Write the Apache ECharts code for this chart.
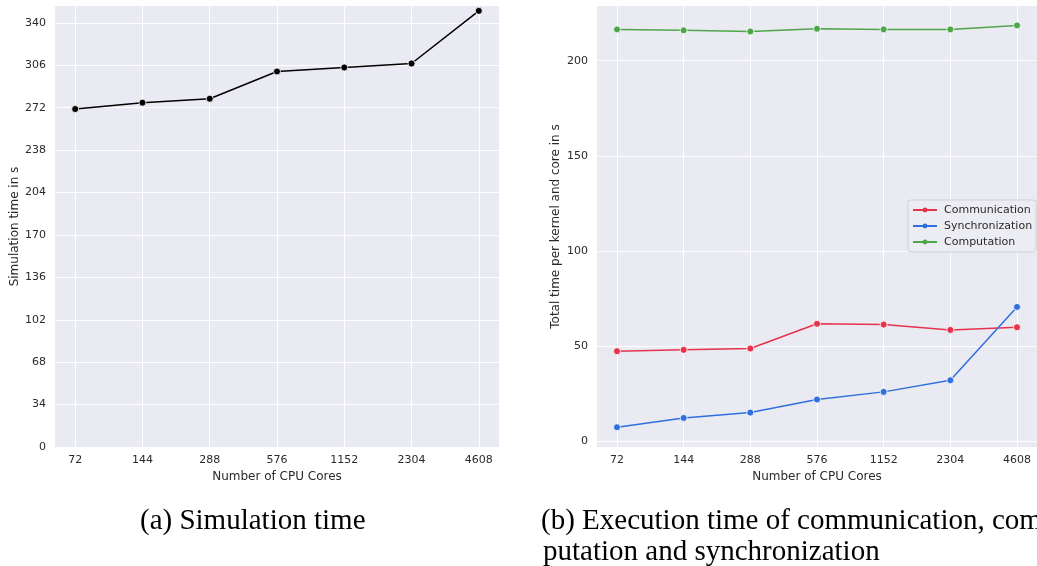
<!DOCTYPE html>
<html>
<head>
<meta charset="utf-8">
<script src="https://cdn.jsdelivr.net/npm/echarts@6/dist/echarts.min.js"></script>
<style>
html,body{margin:0;padding:0;background:#fff;}
#chart{width:1037px;height:566px;}
</style>
</head>
<body>
<div id="chart"></div>
<script>
const cores = ['72', '144', '288', '576', '1152', '2304', '4608'];
const simulationTime = [270.9, 276.0, 279.2, 301.0, 304.2, 307.4, 349.6];
const communication = [47.2, 47.9, 48.6, 61.6, 61.2, 58.4, 59.8];
const synchronization = [7.2, 12.1, 14.9, 21.8, 25.8, 31.9, 70.5];
const computation = [216.5, 216.0, 215.4, 216.8, 216.5, 216.5, 218.6];
const leftYTicks = [0, 34, 68, 102, 136, 170, 204, 238, 272, 306, 340];
const rightYTicks = [0, 50, 100, 150, 200];
const captionA = '(a) Simulation time';
const captionB1 = '(b) Execution time of communication, com';
const captionB2 = 'putation and synchronization';

const textColor = '#2a2a2a';
const font = 'DejaVu Sans';
const bg = '#eaeaf2';
const catIdx = cores.map((_, i) => i);

function xAxisDef(gridIndex) {
  return {
    type: 'value', gridIndex: gridIndex, min: -0.3, max: 6.3,
    name: 'Number of CPU Cores', nameLocation: 'middle', nameGap: 22,
    nameTextStyle: {color: textColor, fontSize: 12, fontFamily: font},
    axisLine: {show: false},
    axisTick: {show: false, customValues: catIdx},
    axisLabel: {customValues: catIdx, color: textColor, fontSize: 11, fontFamily: font, margin: 8,
      formatter: v => cores[Math.round(v)]},
    splitLine: {show: true, lineStyle: {color: '#ffffff', width: 1}}
  };
}
function yAxisDef(gridIndex, name, min, max, ticks, gap) {
  return {
    type: 'value', gridIndex: gridIndex, min: min, max: max,
    name: name, nameLocation: 'middle', nameGap: gap, nameRotate: 90,
    nameTextStyle: {color: textColor, fontSize: 12, fontFamily: font},
    axisLine: {show: false},
    axisTick: {show: false, customValues: ticks},
    axisLabel: {customValues: ticks, color: textColor, fontSize: 11, fontFamily: font, margin: 9},
    splitLine: {show: true, lineStyle: {color: '#ffffff', width: 1}}
  };
}
function lineSeries(name, data, color, xi, yi) {
  return {
    type: 'line', name: name, xAxisIndex: xi, yAxisIndex: yi,
    data: data.map((v, i) => [i, v]),
    symbol: 'circle', symbolSize: 7, showSymbol: true,
    lineStyle: {color: color, width: 1.5},
    itemStyle: {color: color, borderColor: '#ffffff', borderWidth: 0.8},
    emphasis: {disabled: true}, animation: false
  };
}

const chart = echarts.init(document.getElementById('chart'), null, {renderer: 'canvas'});
chart.setOption({
  animation: false,
  backgroundColor: '#ffffff',
  grid: [
    {left: 55, top: 6, width: 444, height: 441, show: true, backgroundColor: bg, borderWidth: 0, containLabel: false},
    {left: 597, top: 6, width: 443, height: 441, show: true, backgroundColor: bg, borderWidth: 0, containLabel: false}
  ],
  xAxis: [xAxisDef(0), xAxisDef(1)],
  yAxis: [
    yAxisDef(0, 'Simulation time in s', 0, 353.5, leftYTicks, 34),
    yAxisDef(1, 'Total time per kernel and core in s', -3.2, 228.8, rightYTicks, 35)
  ],
  legend: {
    data: ['Communication', 'Synchronization', 'Computation'],
    orient: 'vertical', left: 908, top: 200,
    itemWidth: 24, itemHeight: 6, itemGap: 4,
    padding: [4, 4, 4, 4],
    itemStyle: {borderWidth: 0},
    backgroundColor: 'rgba(236,236,243,0.85)', borderColor: '#cfcfd6', borderWidth: 1, borderRadius: 3,
    textStyle: {color: textColor, fontSize: 11, fontFamily: font, padding: [0, 0, 0, 2], lineHeight: 12},
    selectedMode: false
  },
  series: [
    lineSeries('Simulation', simulationTime, '#000000', 0, 0),
    lineSeries('Communication', communication, '#e6334b', 1, 1),
    lineSeries('Synchronization', synchronization, '#2f6fde', 1, 1),
    lineSeries('Computation', computation, '#4ea64a', 1, 1)
  ],
  graphic: [
    {type: 'text', left: 140, top: 507, style: {text: captionA, font: '29px "Liberation Serif"', fill: '#000'}},
    {type: 'text', left: 541, top: 507, style: {text: captionB1, font: '29px "Liberation Serif"', fill: '#000'}},
    {type: 'text', left: 543, top: 538, style: {text: captionB2, font: '29px "Liberation Serif"', fill: '#000'}}
  ]
});
</script>
</body>
</html>
